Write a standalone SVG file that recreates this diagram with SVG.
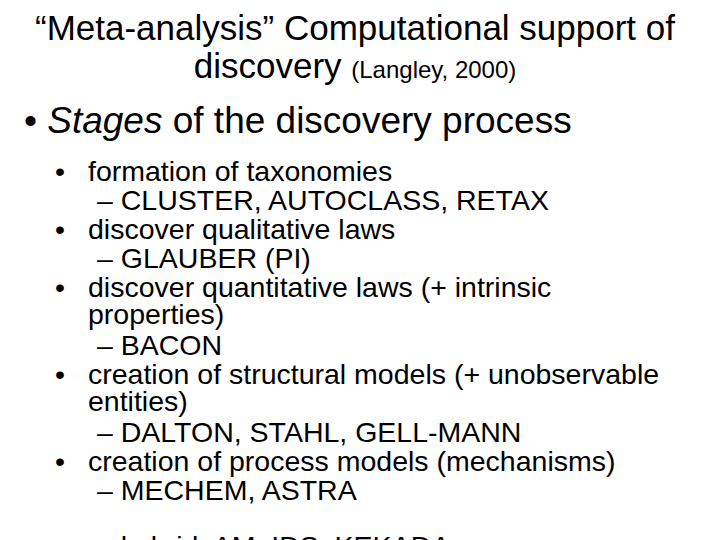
<svg xmlns="http://www.w3.org/2000/svg" width="720" height="540" viewBox="0 0 720 540">
<style>
text{font-family:"Liberation Sans",Arial,sans-serif;fill:#000}
.t{font-size:35px}
.b{font-size:28.5px}
</style>
<rect width="720" height="540" fill="#fff"/>
<g id="title">
<text class="t" x="355" y="40" text-anchor="middle">“Meta-analysis” Computational support of</text>
<text class="t" x="355" y="78" text-anchor="middle">discovery <tspan font-size="24">(Langley, 2000)</tspan></text>
</g>
<text x="24" y="133" font-size="37">• <tspan font-style="italic">Stages</tspan> of the discovery process</text>
<g id="list">
<text class="b" x="55" y="181">•</text><text class="b" x="88" y="181">formation of taxonomies</text>
<text class="b" x="97" y="210">– CLUSTER, AUTOCLASS, RETAX</text>
<text class="b" x="55" y="239">•</text><text class="b" x="88" y="239">discover qualitative laws</text>
<text class="b" x="97" y="268">– GLAUBER (PI)</text>
<text class="b" x="55" y="297">•</text><text class="b" x="88" y="297">discover quantitative laws (+ intrinsic</text>
<text class="b" x="88" y="324">properties)</text>
<text class="b" x="97" y="355">– BACON</text>
<text class="b" x="55" y="384">•</text><text class="b" x="88" y="384">creation of structural models (+ unobservable</text>
<text class="b" x="88" y="411">entities)</text>
<text class="b" x="97" y="442">– DALTON, STAHL, GELL-MANN</text>
<text class="b" x="55" y="471">•</text><text class="b" x="88" y="471">creation of process models (mechanisms)</text>
<text class="b" x="97" y="500">– MECHEM, ASTRA</text>
<text class="b" x="97" y="556">– hybrid: AM, IDS, KEKADA</text>
</g>
</svg>
